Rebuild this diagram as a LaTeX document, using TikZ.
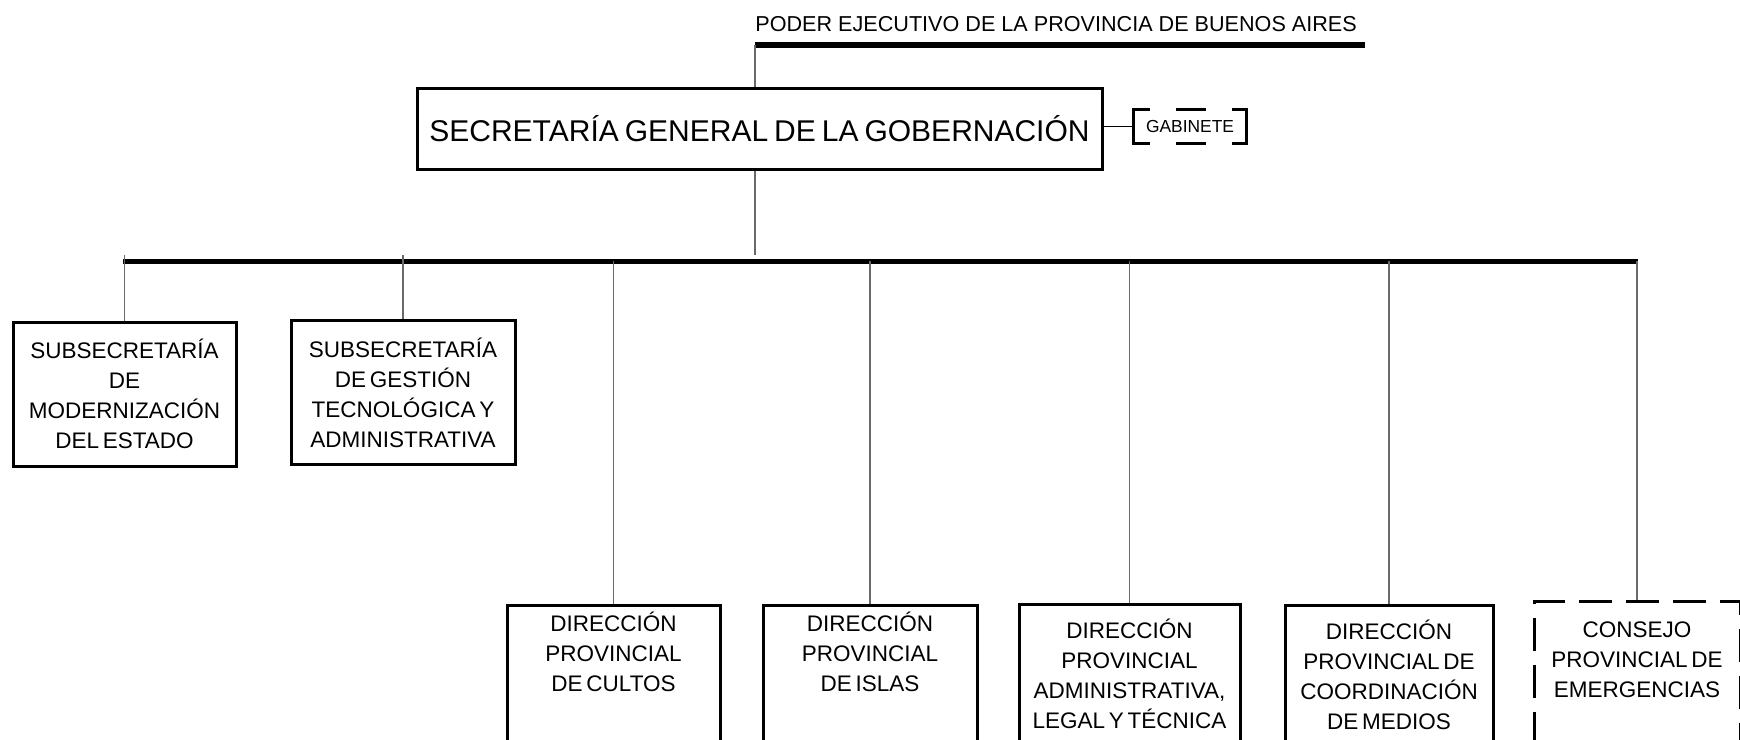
\documentclass[tikz,border=0pt]{standalone}
\usepackage{fontspec}
\setmainfont{Liberation Sans}
\newfontfamily\boxfam{Liberation Sans}[WordSpace=0.6]
\usepackage{xcolor}
\usepackage{tikz}
\usetikzlibrary{positioning}
\definecolor{linkgray}{RGB}{105,105,105}
\newcommand{\boxfont}{\boxfam\fontsize{11.25}{15}\selectfont}
\newcommand{\titlefont}{\fontsize{15}{18}\selectfont\spaceskip=0.2em\relax}

\begin{document}
\begin{tikzpicture}[x=0.5pt,y=-0.5pt,
    box/.style={draw,line width=1.5pt,align=flush center,inner xsep=2pt,font=\boxfont},
    subbox/.style={box,minimum height=72pt,text width=#1},
    dirbox/.style={box,anchor=north,text height=11pt,text depth=90pt,inner ysep=#1},
    link/.style={draw=linkgray,line width=0.75pt}]

    \useasboundingbox (0,0) rectangle (1740,739);
    \clip (0,0) rectangle (1740,739);

    % Poder Ejecutivo
    \node[anchor=base west,inner sep=0pt,font=\fontsize{10.8}{13}\selectfont] (pe) at (755,32)
        {PODER EJECUTIVO DE LA PROVINCIA DE BUENOS AIRES};
    \coordinate (peL) at (755,45);
    \coordinate (peR) at (1365,45);
    \draw[line width=3pt] (peL) -- (peR);

    % Secretaria General
    \node[draw,line width=1.5pt,minimum width=342.5pt,minimum height=40.5pt,
        font=\titlefont] (sg) at (759.5,128.5)
        {SECRETARÍA GENERAL DE LA GOBERNACIÓN};

    % Gabinete
    \node[minimum width=56pt,minimum height=16.5pt,inner sep=0pt,
        font=\fontsize{8.7}{10}\selectfont] (gab) at (1190,126.5) {GABINETE};
    \draw[line width=1.5pt] ([xshift=8pt]gab.north west) -| (gab.south west) -- ++(16,0);
    \draw[line width=1.5pt] ([xshift=-7pt]gab.north east) -| (gab.south east) -- ++(-14,0);
    \draw[line width=1.5pt] ([xshift=-7pt]gab.north) -- ([xshift=8pt]gab.north);
    \draw[line width=1.5pt] ([xshift=-7pt]gab.south) -- ([xshift=8pt]gab.south);
    \draw[line width=0.75pt] (sg.east |- gab.west) -- (gab.west);

    % Bus
    \coordinate (busL) at (123,261);
    \coordinate (busR) at (1638,261);
    \coordinate (busT) at (0,255);
    \draw[line width=2.5pt] (busL) -- (busR);
    \draw[link] (peL) -- (peL |- sg.north);
    \draw[link] (peL |- sg.south) -- (peL |- busT);

    % Subsecretarias
    \node[subbox=107.5pt] (sub1) at (124.5,394)
        {SUBSECRETARÍA\\DE\\MODERNIZACIÓN\\DEL ESTADO};
    \node[subbox=108pt] (sub2) at (403,392.5)
        {SUBSECRETARÍA\\DE GESTIÓN\\TECNOLÓGICA Y\\ADMINISTRATIVA};

    % Direcciones
    \node[dirbox=2pt,text width=102.5pt] (dc) at (613.5,604)
        {DIRECCIÓN\\PROVINCIAL\\DE CULTOS};
    \node[dirbox=2pt,text width=103pt] (di) at (870,604)
        {DIRECCIÓN\\PROVINCIAL\\DE ISLAS};
    \node[dirbox=6pt,text width=106.5pt] (da) at (1129.5,603)
        {DIRECCIÓN\\PROVINCIAL\\ADMINISTRATIVA,\\LEGAL Y TÉCNICA};
    \node[dirbox=6pt,text width=100pt] (dm) at (1389,604)
        {DIRECCIÓN\\PROVINCIAL DE\\COORDINACIÓN\\DE MEDIOS};
    \node[dirbox=7pt,text width=99pt,dash pattern=on 16.5pt off 7pt] (cpe) at (1637,600)
        {CONSEJO\\PROVINCIAL DE\\EMERGENCIAS};

    % Drops
    \foreach \n in {sub1,sub2}
        \draw[link] (\n.north |- busT) -- (\n.north);
    \foreach \n in {dc,di,da,dm,cpe}
        \draw[link] (\n.north |- busL) -- (\n.north);

\end{tikzpicture}
\end{document}
